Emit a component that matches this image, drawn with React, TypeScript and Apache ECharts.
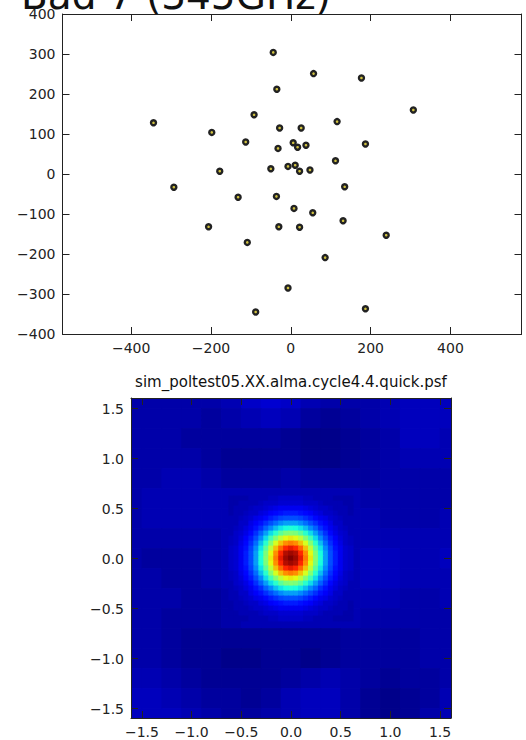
import React, { useEffect, useRef } from 'react';
import * as echarts from 'echarts';

// ---------- top panel: antenna positions ----------
const antennaX = [-44, 57, 177, -35, 307, -92, -344, 116, -28, 26, -198, -113, 6, 38, 17, 187, -32, 112, -178, -50, -7, 11, 22, 48, -293, 135, -132, -36, 8, 55, 131, -206, -30, 22, 239, -109, 86, -7, 187, -88];
const antennaY = [304, 251, 240, 212, 160, 148, 128, 131, 115, 115, 104, 80, 78, 72, 67, 75, 64, 33, 7, 13, 19, 22, 7, 10, -33, -32, -58, -56, -86, -97, -117, -132, -132, -133, -153, -171, -209, -285, -337, -345];
const topXTicks = [-400, -200, 0, 200, 400];
const topYTicks = [-400, -300, -200, -100, 0, 100, 200, 300, 400];

// ---------- bottom panel: PSF image ----------
const psfTicks = [-1.5, -1.0, -0.5, 0.0, 0.5, 1.0, 1.5];
// background sidelobes, 0.2 spacing (x left->right, rows y top->bottom), values x100
const bgX = [-1.6, -1.4, -1.2, -1.0, -0.8, -0.6, -0.4, -0.2, 0, 0.2, 0.4, 0.6, 0.8, 1.0, 1.2, 1.4, 1.6];
const bgY = [1.6, 1.4, 1.2, 1.0, 0.8, 0.6, 0.4, 0.2, 0, -0.2, -0.4, -0.6, -0.8, -1.0, -1.2, -1.4, -1.6];
const bgValues = [
  [4, 4, 4, 4, 4, 5, 7, 8, 7, 5, 4, 4, 4, 5, 6, 6, 6],
  [4, 4, 4, 4, 3, 4, 5, 6, 5, 3, 2, 3, 4, 5, 6, 6, 6],
  [4, 4, 4, 3, 3, 3, 3, 3, 2, 1, 1, 2, 3, 4, 6, 6, 5],
  [4, 4, 4, 4, 3, 2, 2, 2, 2, 1, 1, 2, 3, 4, 5, 5, 5],
  [4, 4, 5, 5, 4, 3, 3, 3, 4, 3, 3, 3, 3, 4, 4, 4, 4],
  [4, 5, 5, 5, 5, 5, 5, 5, 5, 5, 5, 5, 4, 4, 4, 4, 4],
  [4, 5, 5, 5, 5, 5, 5, 5, 5, 5, 5, 5, 5, 4, 4, 4, 5],
  [4, 4, 4, 4, 4, 5, 5, 5, 5, 5, 5, 5, 5, 5, 5, 5, 5],
  [4, 3, 3, 3, 4, 5, 5, 5, 5, 5, 5, 5, 6, 6, 5, 5, 6],
  [4, 4, 3, 3, 4, 5, 5, 5, 5, 5, 5, 5, 6, 6, 5, 5, 5],
  [4, 4, 4, 3, 3, 4, 5, 5, 5, 5, 5, 5, 5, 5, 4, 4, 5],
  [4, 4, 3, 3, 3, 4, 5, 5, 5, 5, 5, 5, 4, 4, 4, 4, 4],
  [4, 4, 3, 2, 2, 2, 2, 2, 2, 2, 2, 3, 3, 3, 3, 4, 4],
  [4, 4, 3, 2, 2, 1, 1, 2, 2, 1, 2, 3, 3, 3, 3, 4, 4],
  [5, 5, 4, 3, 2, 2, 2, 2, 3, 4, 5, 4, 3, 2, 3, 3, 4],
  [6, 6, 5, 4, 3, 3, 2, 3, 5, 6, 6, 4, 2, 1, 2, 3, 5],
  [6, 6, 6, 5, 4, 3, 3, 4, 5, 6, 6, 4, 2, 1, 2, 4, 5],
];
// main beam, 0.05 spacing, values x100
const beamX = [-0.6, -0.55, -0.5, -0.45, -0.4, -0.35, -0.3, -0.25, -0.2, -0.15, -0.1, -0.05, 0, 0.05, 0.1, 0.15, 0.2, 0.25, 0.3, 0.35, 0.4, 0.45, 0.5, 0.55, 0.6];
const beamY = [0.6, 0.55, 0.5, 0.45, 0.4, 0.35, 0.3, 0.25, 0.2, 0.15, 0.1, 0.05, 0, -0.05, -0.1, -0.15, -0.2, -0.25, -0.3, -0.35, -0.4, -0.45, -0.5, -0.55, -0.6];
const beamValues = [
  [4, 4, 4, 4, 5, 5, 5, 5, 6, 6, 7, 7, 7, 7, 7, 6, 6, 5, 5, 5, 5, 4, 4, 4, 4],
  [4, 4, 5, 5, 5, 5, 6, 7, 7, 7, 8, 8, 8, 8, 8, 7, 7, 7, 6, 5, 5, 5, 5, 4, 4],
  [4, 5, 5, 5, 6, 7, 7, 8, 9, 10, 11, 11, 11, 11, 11, 10, 9, 8, 7, 7, 6, 5, 5, 5, 4],
  [4, 5, 5, 6, 7, 7, 9, 10, 12, 13, 14, 15, 15, 15, 14, 13, 12, 10, 9, 7, 7, 6, 5, 5, 4],
  [5, 5, 6, 7, 8, 10, 11, 13, 15, 17, 19, 20, 20, 20, 19, 17, 15, 13, 11, 10, 8, 7, 6, 5, 5],
  [5, 5, 7, 7, 10, 12, 14, 17, 20, 23, 26, 28, 28, 28, 26, 23, 20, 17, 14, 12, 10, 7, 7, 5, 5],
  [5, 6, 7, 9, 11, 14, 17, 22, 26, 31, 35, 38, 39, 38, 35, 31, 26, 22, 17, 14, 11, 9, 7, 6, 5],
  [5, 7, 8, 10, 13, 17, 22, 28, 34, 40, 46, 50, 51, 50, 46, 40, 34, 28, 22, 17, 13, 10, 8, 7, 5],
  [6, 7, 9, 12, 15, 20, 26, 34, 43, 51, 58, 63, 65, 63, 58, 51, 43, 34, 26, 20, 15, 12, 9, 7, 6],
  [6, 7, 10, 13, 17, 23, 31, 40, 51, 61, 70, 76, 78, 76, 70, 61, 51, 40, 31, 23, 17, 13, 10, 7, 6],
  [7, 8, 11, 14, 19, 26, 35, 46, 58, 70, 80, 87, 90, 87, 80, 70, 58, 46, 35, 26, 19, 14, 11, 8, 7],
  [7, 8, 11, 15, 20, 28, 38, 50, 63, 76, 87, 95, 97, 95, 87, 76, 63, 50, 38, 28, 20, 15, 11, 8, 7],
  [7, 8, 11, 15, 20, 28, 39, 51, 65, 78, 90, 97, 100, 97, 90, 78, 65, 51, 39, 28, 20, 15, 11, 8, 7],
  [7, 8, 11, 15, 20, 28, 38, 50, 63, 76, 87, 95, 97, 95, 87, 76, 63, 50, 38, 28, 20, 15, 11, 8, 7],
  [7, 8, 11, 14, 19, 26, 35, 46, 58, 70, 80, 87, 90, 87, 80, 70, 58, 46, 35, 26, 19, 14, 11, 8, 7],
  [6, 7, 10, 13, 17, 23, 31, 40, 51, 61, 70, 76, 78, 76, 70, 61, 51, 40, 31, 23, 17, 13, 10, 7, 6],
  [6, 7, 9, 12, 15, 20, 26, 34, 43, 51, 58, 63, 65, 63, 58, 51, 43, 34, 26, 20, 15, 12, 9, 7, 6],
  [5, 7, 8, 10, 13, 17, 22, 28, 34, 40, 46, 50, 51, 50, 46, 40, 34, 28, 22, 17, 13, 10, 8, 7, 5],
  [5, 6, 7, 9, 11, 14, 17, 22, 26, 31, 35, 38, 39, 38, 35, 31, 26, 22, 17, 14, 11, 9, 7, 6, 5],
  [5, 5, 7, 7, 10, 12, 14, 17, 20, 23, 26, 28, 28, 28, 26, 23, 20, 17, 14, 12, 10, 7, 7, 5, 5],
  [5, 5, 6, 7, 8, 10, 11, 13, 15, 17, 19, 20, 20, 20, 19, 17, 15, 13, 11, 10, 8, 7, 6, 5, 5],
  [4, 5, 5, 6, 7, 7, 9, 10, 12, 13, 14, 15, 15, 15, 14, 13, 12, 10, 9, 7, 7, 6, 5, 5, 4],
  [4, 5, 5, 5, 6, 7, 7, 8, 9, 10, 11, 11, 11, 11, 11, 10, 9, 8, 7, 7, 6, 5, 5, 5, 4],
  [4, 4, 5, 5, 5, 5, 6, 7, 7, 7, 8, 8, 8, 8, 8, 7, 7, 7, 6, 5, 5, 5, 5, 4, 4],
  [4, 4, 4, 4, 5, 5, 5, 5, 6, 6, 7, 7, 7, 7, 7, 6, 6, 5, 5, 5, 5, 4, 4, 4, 4],
];
const jetColors = ['#000080', '#0000ff', '#0080ff', '#14ffe2', '#7bff7b', '#e2ff14', '#ff9700', '#ff2100', '#800000'];

const FONT = 'DejaVu Sans';
const INK = '#222';
const minus = (s: string) => s.replace('-', '\u2212');

function frameAxis(extra: any, labels: boolean, ticks: number[], fmt: (v: number) => string) {
  return {
    type: 'value',
    axisLine: { show: true, onZero: false, lineStyle: { color: INK, width: 1 } },
    axisTick: { show: true, inside: true, length: 7, customValues: ticks, lineStyle: { color: INK, width: 1 } },
    axisLabel: { show: labels, customValues: ticks, fontSize: 14, color: INK, fontFamily: FONT, formatter: fmt, margin: 7 },
    splitLine: { show: false },
    ...extra,
  };
}

export default function App() {
  const ref = useRef<HTMLDivElement>(null);
  useEffect(() => {
    if (!ref.current) return;
    const chart = echarts.init(ref.current, null, { renderer: 'svg' });

    const scatterData = antennaX.map((x, i) => [x, antennaY[i]]);
    const bgData: number[][] = [];
    bgValues.forEach((row, j) => row.forEach((v, i) => bgData.push([bgX[i], bgY[j], v / 100, 0.2])));
    const beamData: number[][] = [];
    beamValues.forEach((row, j) => row.forEach((v, i) => beamData.push([beamX[i], beamY[j], v / 100, 0.05])));

    const renderCell = (params: any, api: any) => {
      const x = api.value(0);
      const y = api.value(1);
      const s = api.value(3);
      const p0 = api.coord([x - s / 2, y + s / 2]);
      const p1 = api.coord([x + s / 2, y - s / 2]);
      const cs = params.coordSys;
      const shape = echarts.graphic.clipRectByRect(
        { x: p0[0] - 0.4, y: p0[1] - 0.4, width: p1[0] - p0[0] + 0.8, height: p1[1] - p0[1] + 0.8 },
        { x: cs.x, y: cs.y, width: cs.width, height: cs.height }
      );
      return shape && { type: 'rect', shape, style: { fill: api.visual('color') } };
    };

    const topFmt = (v: number) => minus(String(v));
    const psfFmt = (v: number) => minus(v.toFixed(1));

    chart.setOption({
      animation: false,
      backgroundColor: '#ffffff',
      grid: [
        { left: 62.5, top: 14, width: 459, height: 320 },
        { left: 131, top: 398, width: 320, height: 320 },
      ],
      xAxis: [
        frameAxis({ gridIndex: 0, position: 'bottom', min: -572, max: 578 }, true, topXTicks, topFmt),
        frameAxis({ gridIndex: 0, position: 'top', min: -572, max: 578 }, false, topXTicks, topFmt),
        frameAxis({ gridIndex: 1, position: 'bottom', min: -1.61, max: 1.61, z: 10 }, true, psfTicks, psfFmt),
        frameAxis({ gridIndex: 1, position: 'top', min: -1.61, max: 1.61, z: 10 }, false, psfTicks, psfFmt),
      ],
      yAxis: [
        frameAxis({ gridIndex: 0, position: 'left', min: -400, max: 400 }, true, topYTicks, topFmt),
        frameAxis({ gridIndex: 0, position: 'right', min: -400, max: 400 }, false, topYTicks, topFmt),
        frameAxis({ gridIndex: 1, position: 'left', min: -1.595, max: 1.605, z: 10 }, true, psfTicks, psfFmt),
        frameAxis({ gridIndex: 1, position: 'right', min: -1.595, max: 1.605, z: 10 }, false, psfTicks, psfFmt),
      ],
      visualMap: {
        type: 'continuous',
        show: false,
        dimension: 2,
        min: 0,
        max: 1,
        seriesIndex: [1, 2],
        inRange: { color: jetColors },
      },
      series: [
        {
          type: 'scatter',
          xAxisIndex: 0,
          yAxisIndex: 0,
          data: scatterData,
          symbol: 'circle',
          symbolSize: 5,
          itemStyle: { color: '#cfc040', borderColor: '#222222', borderWidth: 2.4, opacity: 1 },
          z: 3,
        },
        {
          type: 'custom',
          xAxisIndex: 2,
          yAxisIndex: 2,
          data: bgData,
          renderItem: renderCell,
          encode: { x: 0, y: 1 },
          z: 1,
        },
        {
          type: 'custom',
          xAxisIndex: 2,
          yAxisIndex: 2,
          data: beamData,
          renderItem: renderCell,
          encode: { x: 0, y: 1 },
          z: 2,
        },
      ],
      graphic: [
        {
          type: 'text',
          left: 21,
          top: -24,
          z: 20,
          style: { text: 'Bad 7 (345GHz)', fontSize: 39, fontFamily: FONT, fill: '#111' },
        },
        {
          type: 'text',
          x: 291,
          y: 382,
          z: 20,
          style: {
            text: 'sim_poltest05.XX.alma.cycle4.4.quick.psf',
            fontSize: 15,
            fontFamily: FONT,
            fill: '#111',
            textAlign: 'center',
            textVerticalAlign: 'middle',
          },
        },
        {
          type: 'group',
          x: 144,
          y: 411,
          z: 30,
          children: [
            { type: 'rect', shape: { x: 0, y: 0, width: 115, height: 41 }, style: { fill: '#b9b9e2', stroke: '#333', lineWidth: 1 } },
            { type: 'text', x: 2, y: 10.5, style: { text: 'bmaj=5.4e-01', fontSize: 15, fontFamily: FONT, fill: '#111', textVerticalAlign: 'middle' } },
            { type: 'text', x: 2, y: 30.5, style: { text: 'bmin=4.9e-01', fontSize: 15, fontFamily: FONT, fill: '#111', textVerticalAlign: 'middle' } },
          ],
        },
      ],
    });
    return () => chart.dispose();
  }, []);
  return <div ref={ref} style={{ position: 'absolute', left: 0, top: 0, width: 526, height: 740 }} />;
}
